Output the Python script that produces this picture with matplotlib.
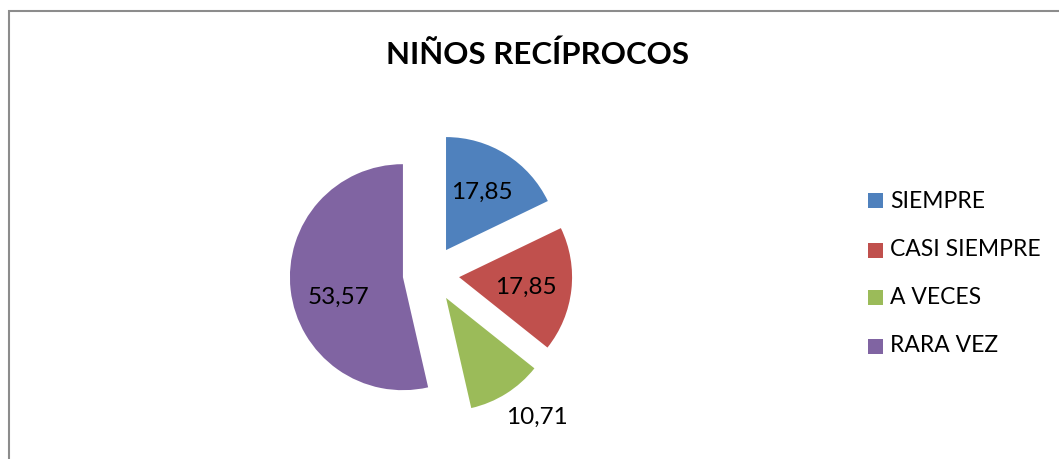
import numpy as np
import matplotlib.pyplot as plt
from matplotlib.patches import Rectangle

plt.rcParams['font.family'] = ['Lato', 'DejaVu Sans']

categorias = ["SIEMPRE", "CASI SIEMPRE", "A VECES", "RARA VEZ"]
valores = [17.85, 17.85, 10.71, 53.57]
etiquetas = ["17,85", "17,85", "10,71", "53,57"]
colores = ["#4F81BD", "#C0504D", "#9BBB59", "#8064A2"]

W, H = 1059, 459
fig = plt.figure(figsize=(W / 100, H / 100), dpi=100)

# chart border (only left and top visible in the crop)
fig.patches.append(Rectangle((8.5 / W, -0.1), 1.2, (H - 10.5) / H + 0.1,
                             transform=fig.transFigure, fill=False,
                             edgecolor="#8c8c8c", linewidth=1.5))

fig.text(538 / W, 1 - 55 / H, "NIÑOS RECÍPROCOS", ha="center", va="center",
         fontsize=22.5, fontweight="bold")

# pie: centre (431, 274) px, radius 113 px
r_px = 113
cx, cy = 431, 274
size = 2 * 1.6 * r_px
ax = fig.add_axes([(cx - size / 2) / W, 1 - (cy + size / 2) / H, size / W, size / H])
wedges, _ = ax.pie(valores, colors=colores, startangle=90, counterclock=False,
                   explode=[0.25] * 4, radius=1.0)
ax.set_xlim(-1.6, 1.6)
ax.set_ylim(-1.6, 1.6)
ax.set_aspect("equal")
ax.axis("off")

# data labels (green one sits outside its slice)
dist = [0.6, 0.6, 1.33, 0.6]
giro = [0, -2, 5, 11]
for w, lab, d, g in zip(wedges, etiquetas, dist, giro):
    mid = np.deg2rad((w.theta1 + w.theta2) / 2)
    ang = mid + np.deg2rad(g)
    ox, oy = 0.25 * np.cos(mid), 0.25 * np.sin(mid)
    ax.text(ox + d * np.cos(ang), oy + d * np.sin(ang), lab, ha="center", va="center",
            fontsize=17.5)

# legend
leg_y = [201, 250, 297, 346]
for cat, col, y in zip(categorias, colores, leg_y):
    fig.patches.append(Rectangle((868 / W, 1 - (y + 7.5) / H), 15 / W, 15 / H,
                                 transform=fig.transFigure, facecolor=col, edgecolor="none"))
    fig.text(890 / W, 1 - y / H, cat, ha="left", va="center", fontsize=16.5)

fig.savefig("out.png", dpi=100)
